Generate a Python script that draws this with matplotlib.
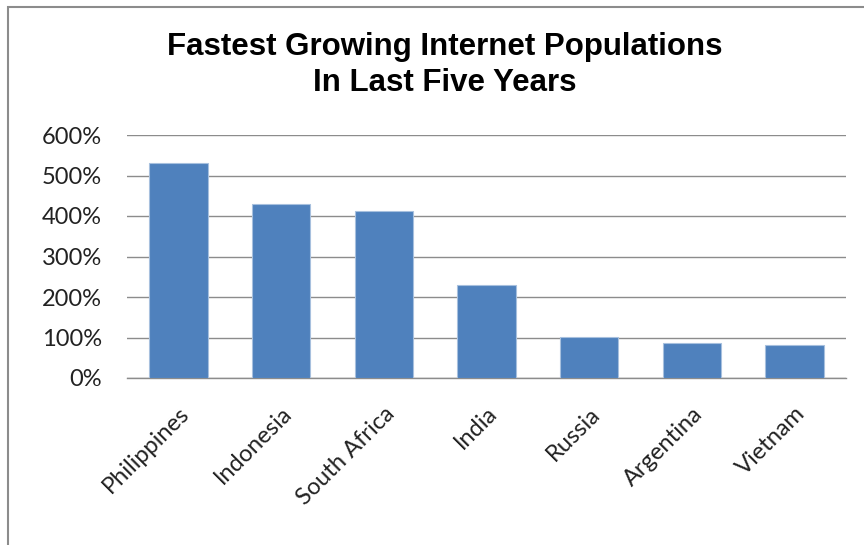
import matplotlib
matplotlib.use("Agg")
import matplotlib.pyplot as plt
from matplotlib.ticker import FuncFormatter
from matplotlib.patches import Rectangle

countries = ["Philippines", "Indonesia", "South Africa", "India", "Russia", "Argentina", "Vietnam"]
growth_pct = [531, 430, 412, 230, 101, 86, 82]
y_ticks = [0, 100, 200, 300, 400, 500, 600]

W, H = 864, 545
fig = plt.figure(figsize=(W / 100, H / 100), dpi=100)
fig.patch.set_facecolor("white")

# chart border (top and left visible)
fig.add_artist(Rectangle((8 / W, -0.1), 1.2, (H - 7) / H + 0.1, transform=fig.transFigure,
                         fill=False, edgecolor="#8c8c8c", linewidth=1.5))

left, right, top, bottom = 127, 846, 135, 378
ax = fig.add_axes([left / W, 1 - bottom / H, (right - left) / W, (bottom - top) / H])

x = list(range(len(countries)))
ax.bar(x, growth_pct, width=0.57, color="#4F81BD", edgecolor="#a7c0de", linewidth=0.8, zorder=3)

ax.set_xlim(-0.5, len(countries) - 0.5)
ax.set_ylim(0, 600)
ax.set_yticks(y_ticks)
ax.yaxis.set_major_formatter(FuncFormatter(lambda v, p: f"{int(v)}%"))
ax.grid(axis="y", color="#8c8c8c", linewidth=1.0, zorder=0)
for s in ["top", "right", "left"]:
    ax.spines[s].set_visible(False)
ax.spines["bottom"].set_color("#8c8c8c")
ax.spines["bottom"].set_linewidth(1.0)
ax.tick_params(axis="y", length=0, pad=18, labelsize=17, labelcolor="#222222")
ax.tick_params(axis="x", length=0, pad=18, labelsize=17, labelcolor="#222222")
for lab in ax.get_yticklabels():
    lab.set_fontfamily("Lato")

ax.set_xticks(x)
ax.set_xticklabels(countries, rotation=45, ha="right", rotation_mode="anchor", fontfamily="Lato")

fig.text(445 / W, 1 - 65 / H, "Fastest Growing Internet Populations\nIn Last Five Years",
         ha="center", va="center", fontsize=22.5, fontweight="bold",
         fontfamily="Liberation Sans", linespacing=1.3, color="black")

fig.savefig("out.png", dpi=100)
